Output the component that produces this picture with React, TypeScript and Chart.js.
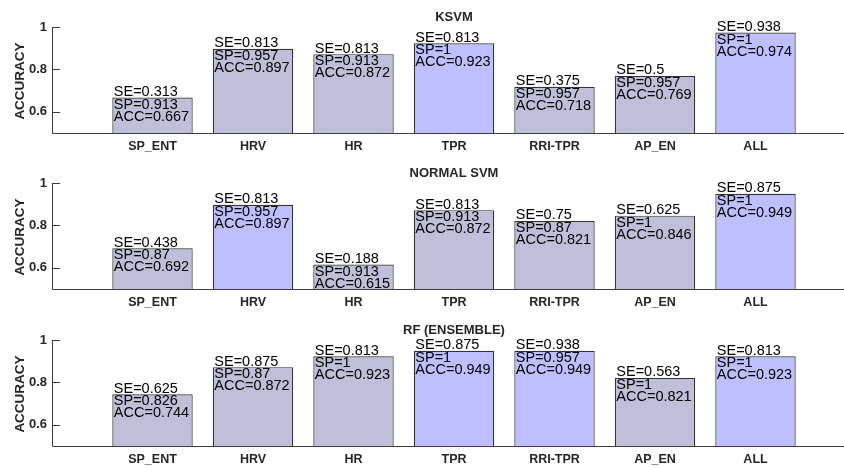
import React, { useEffect, useRef } from 'react';
import { Chart, registerables } from 'chart.js';

Chart.register(...registerables);

const categories = ['SP_ENT', 'HRV', 'HR', 'TPR', 'RRI-TPR', 'AP_EN', 'ALL'];
const panelTitles = ['KSVM', 'NORMAL SVM', 'RF (ENSEMBLE)'];
const yTickValues = [0.6, 0.8, 1];
const yTitle = 'ACCURACY';

const ksvmAcc = [0.667, 0.897, 0.872, 0.923, 0.718, 0.769, 0.974];
const ksvmSe = [0.313, 0.813, 0.813, 0.813, 0.375, 0.5, 0.938];
const ksvmSp = [0.913, 0.957, 0.913, 1, 0.957, 0.957, 1];
const ksvmHighlight = [false, false, false, true, false, false, true];

const svmAcc = [0.692, 0.897, 0.615, 0.872, 0.821, 0.846, 0.949];
const svmSe = [0.438, 0.813, 0.188, 0.813, 0.75, 0.625, 0.875];
const svmSp = [0.87, 0.957, 0.913, 0.913, 0.87, 1, 1];
const svmHighlight = [false, true, false, false, false, false, true];

const rfAcc = [0.744, 0.872, 0.923, 0.949, 0.949, 0.821, 0.923];
const rfSe = [0.625, 0.875, 0.813, 0.875, 0.938, 0.563, 0.813];
const rfSp = [0.826, 0.87, 1, 1, 0.957, 1, 1];
const rfHighlight = [false, false, false, true, true, false, true];

const panels = [
  { title: panelTitles[0], acc: ksvmAcc, se: ksvmSe, sp: ksvmSp, hi: ksvmHighlight },
  { title: panelTitles[1], acc: svmAcc, se: svmSe, sp: svmSp, hi: svmHighlight },
  { title: panelTitles[2], acc: rfAcc, se: rfSe, sp: rfSp, hi: rfHighlight },
];

const FONT = '"Liberation Sans", Arial, Helvetica, sans-serif';
const GRAY = 'rgb(191,191,217)';
const BLUE = 'rgb(191,191,255)';
const AXIS = '#3c3c3c';
const TEXT = '#262626';

type Panel = (typeof panels)[number];

function PanelChart({ panel, top }: { panel: Panel; top: number }) {
  const ref = useRef<HTMLCanvasElement | null>(null);
  useEffect(() => {
    const canvas = ref.current;
    if (!canvas) return;
    const labels = ['', ...categories, ''];
    const data = [null, ...panel.acc, null];
    const colors = ['#fff', ...panel.hi.map((h) => (h ? BLUE : GRAY)), '#fff'];

    const deco = {
      id: 'deco',
      afterDraw(chart: any) {
        const ctx = chart.ctx as CanvasRenderingContext2D;
        const area = chart.chartArea;
        const yScale = chart.scales.y;
        const xScale = chart.scales.x;
        ctx.save();
        // axis lines
        ctx.strokeStyle = AXIS;
        ctx.lineWidth = 1;
        ctx.beginPath();
        ctx.moveTo(area.left + 0.5, area.top);
        ctx.lineTo(area.left + 0.5, area.bottom + 0.5);
        ctx.lineTo(area.right, area.bottom + 0.5);
        ctx.stroke();
        // inner y ticks
        ctx.beginPath();
        for (const v of yTickValues) {
          const y = Math.round(yScale.getPixelForValue(v)) + 0.5;
          ctx.moveTo(area.left, y);
          ctx.lineTo(area.left + 8, y);
        }
        ctx.stroke();
        // title
        ctx.fillStyle = TEXT;
        ctx.font = `bold 13px ${FONT}`;
        ctx.textAlign = 'center';
        ctx.textBaseline = 'middle';
        ctx.fillText(panel.title, (area.left + area.right) / 2, 17);
        // x labels
        ctx.font = `bold 12.5px ${FONT}`;
        categories.forEach((c, i) => {
          ctx.fillText(c, xScale.getPixelForValue(i + 1), area.bottom + 14);
        });
        // y title
        ctx.save();
        ctx.translate(20, (area.top + area.bottom) / 2 + 1);
        ctx.rotate(-Math.PI / 2);
        ctx.font = `bold 13.5px ${FONT}`;
        ctx.fillText(yTitle, 0, 0);
        ctx.restore();
        // annotations
        const meta = chart.getDatasetMeta(0);
        ctx.fillStyle = '#000';
        ctx.font = `14.5px ${FONT}`;
        ctx.textAlign = 'left';
        ctx.textBaseline = 'alphabetic';
        categories.forEach((_, i) => {
          const bar = meta.data[i + 1] as any;
          const left = bar.x - bar.width / 2 + 1.5;
          const t = bar.y;
          ctx.fillText(`SE=${panel.se[i]}`, left, t - 1.5);
          ctx.fillText(`SP=${panel.sp[i]}`, left, t + 11);
          ctx.fillText(`ACC=${panel.acc[i]}`, left, t + 23);
        });
        ctx.restore();
      },
    };

    const chart = new Chart(canvas, {
      type: 'bar',
      data: {
        labels,
        datasets: [
          {
            data,
            backgroundColor: colors,
            borderColor: '#333333',
            borderWidth: 1.2,
            barPercentage: 0.8,
            categoryPercentage: 1,
          },
        ],
      },
      options: {
        responsive: false,
        animation: false,
        events: [],
        layout: { padding: { left: 0, right: 4, top: 27, bottom: 0 } },
        plugins: { legend: { display: false }, tooltip: { enabled: false }, title: { display: false } },
        scales: {
          x: {
            type: 'category',
            offset: false,
            grid: { display: false, drawTicks: false },
            border: { display: false },
            ticks: { display: false },
            afterFit: (s: any) => {
              s.height = 23;
            },
          },
          y: {
            min: 0.5,
            max: 1,
            grid: { display: false, drawTicks: false },
            border: { display: false },
            afterBuildTicks: (s: any) => {
              s.ticks = yTickValues.map((v) => ({ value: v }));
            },
            ticks: {
              font: { family: FONT, size: 13, weight: 'bold' },
              color: TEXT,
              padding: 5,
              callback: (v: any) => String(v),
            },
            afterFit: (s: any) => {
              s.width = 52;
            },
          },
        },
      } as any,
      plugins: [deco],
    });
    return () => chart.destroy();
  }, [panel]);

  return (
    <div style={{ position: 'absolute', left: 0, top, width: 860, height: 156 }}>
      <canvas ref={ref} width={860} height={156} style={{ width: 860, height: 156, display: 'block' }} />
    </div>
  );
}

export default function App() {
  return (
    <div
      style={{
        position: 'fixed',
        left: 0,
        top: 0,
        width: 844,
        height: 468,
        overflow: 'hidden',
        background: '#fff',
      }}
    >
      <PanelChart panel={panels[0]} top={0} />
      <PanelChart panel={panels[1]} top={156} />
      <PanelChart panel={panels[2]} top={313} />
    </div>
  );
}
